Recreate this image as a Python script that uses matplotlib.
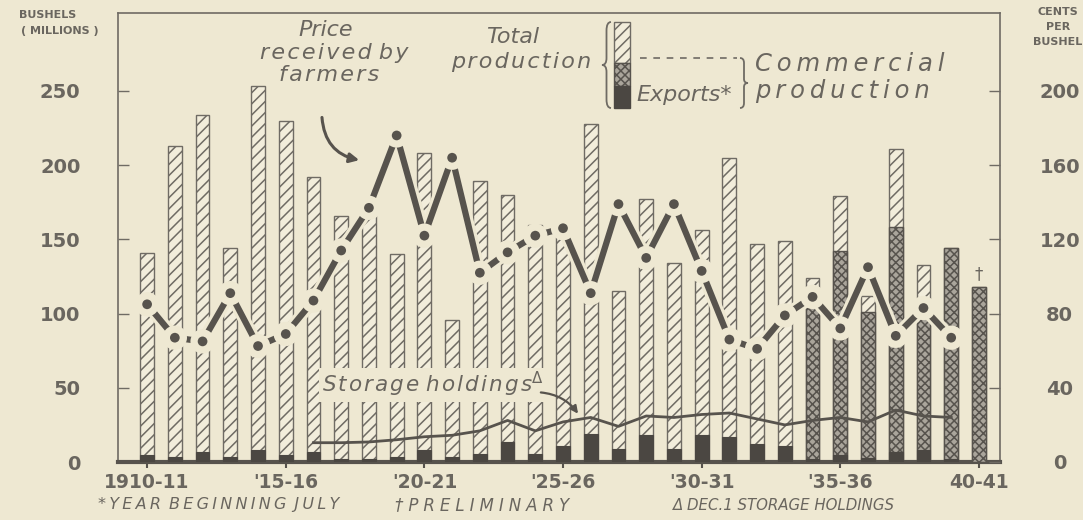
import matplotlib
matplotlib.use("Agg")
import matplotlib.pyplot as plt
import numpy as np
from matplotlib.path import Path
from matplotlib.patches import PathPatch, Rectangle
import matplotlib.patheffects as pe

# ---------------- data ----------------
years = list(range(1910, 1941))
total_production = [141, 213, 234, 144, 253, 230, 192, 166, 169, 140,
                    208, 96, 189, 180, 160, 157, 228, 115, 177, 134,
                    156, 205, 147, 149, 124, 179, 112, 211, 133, 144, 118]
commercial_production = [np.nan] * 24 + [107, 142, 101, 158, 107, 144, 118]
exports = [4.5, 3.5, 6.5, 3.5, 8, 4.5, 6.5, 2, 2, 3.5,
           8, 3.5, 5.5, 13.5, 5.5, 11, 19, 9, 18, 9,
           18, 17, 12, 11, 2, 4.5, 3, 7, 8, 2, 0]
price = [85, 67, 65, 91, 62.5, 69, 87, 114, 137, 176,
         122, 164, 102, 113, 122, 126, 91, 139, 110, 139,
         103, 66, 61, 79, 89, 72, 105, 68, 83, 67, np.nan]
storage_years = list(range(1916, 1940))
storage = [13, 13, 13.5, 15, 17, 18, 21, 28, 21, 27,
           30, 24, 31, 30, 32, 33, 29, 25, 28, 30, 27, 35, 31, 30]
tick_years = [1910, 1915, 1920, 1925, 1930, 1935, 1940]
tick_labels = ["1910-11", "'15-16", "'20-21", "'25-26", "'30-31", "'35-36", "40-41"]
left_ticks = [0, 50, 100, 150, 200, 250]
right_ticks = [0, 40, 80, 120, 160, 200]

# ---------------- style ----------------
W, H = 1083, 520
BG = "#eee8d2"
BARFILL = "#f2eddb"
INK = "#57534d"
GRAY = "#6f6b64"
TXT = "#6a665f"
DARK = "#4b4742"
XFILL = "#aaa59b"

plt.rcParams['hatch.linewidth'] = 1.1

fig = plt.figure(figsize=(W / 100, H / 100), dpi=100, facecolor=BG)
ax = fig.add_axes([118 / W, 1 - 462 / H, (1000 - 118) / W, (462 - 13) / H])
ax.set_facecolor(BG)

def fx(x):
    return x / W

def fy(y):
    return 1 - y / H

def sp(s, ch="\u200a"):
    return " ".join(ch.join(w) for w in s.split(" "))

# bars
ax.bar(years, total_production, width=0.5, color=BARFILL, edgecolor=GRAY,
       hatch='///', linewidth=1.0, zorder=2)
ax.bar(years, commercial_production, width=0.5, color=XFILL,
       edgecolor=INK, hatch='xxxx', linewidth=1.0, zorder=3)
ax.bar(years, exports, width=0.5, color=DARK, edgecolor=DARK, linewidth=0.8, zorder=4)

# storage holdings line
ax.plot(storage_years, storage, color=INK, lw=2.0, zorder=5)

ax.set_xlim(1908.95, 1940.76)
ax.set_ylim(0, 302.5)
ax.set_xticks(tick_years)
ax.set_xticklabels(tick_labels, fontsize=13.5, fontweight='bold', color=TXT)
ax.set_yticks(left_ticks)
ax.set_yticklabels([str(v) for v in left_ticks], fontsize=14, fontweight='bold', color=TXT)
ax.tick_params(axis='y', direction='in', length=8, width=1, color=GRAY, pad=27)
ax.tick_params(axis='x', direction='out', length=4, width=1.5, color=INK, pad=4)
for s in ['left', 'right', 'top']:
    ax.spines[s].set_color(GRAY)
    ax.spines[s].set_linewidth(1.2)
ax.spines['bottom'].set_color(INK)
ax.spines['bottom'].set_linewidth(3)

# price axis
ax2 = ax.twinx()
ax2.set_ylim(0, 242)
ax2.plot(years, price, color=INK, lw=4.5, marker='o', ms=8.5, mfc=INK, mec=BG, mew=1.5,
         solid_capstyle='butt', zorder=6,
         path_effects=[pe.Stroke(linewidth=9, foreground=BG), pe.Normal()])
ax2.set_yticks(right_ticks)
ax2.set_yticklabels([str(v) for v in right_ticks], fontsize=14, fontweight='bold', color=TXT)
for lab in ax2.get_yticklabels():
    lab.set_horizontalalignment('center')
ax2.tick_params(axis='y', direction='in', length=8, width=1, color=GRAY, pad=43)
for s in ax2.spines.values():
    s.set_visible(False)

# axis titles
hd = dict(fontsize=8, fontweight='bold', color=TXT, ha='center', va='center')
fig.text(fx(48), fy(15), "BUSHELS", **hd)
fig.text(fx(60), fy(31), "( MILLIONS )", **hd)
fig.text(fx(1058), fy(12), "CENTS", **hd)
fig.text(fx(1058), fy(27), "PER", **hd)
fig.text(fx(1058), fy(42), "BUSHEL", **hd)

# annotations
it = dict(fontsize=16, style='italic', color=TXT, ha='center', va='center')
fig.text(fx(326), fy(30), "Price", **it)
fig.text(fx(334), fy(53), sp("received by"), **it)
fig.text(fx(329), fy(75), sp("farmers"), **it)
fig.text(fx(513), fy(37), "Total", **it)
fig.text(fx(521), fy(62), sp("production"), **it)
fig.text(fx(755), fy(64), sp("Commercial", "\u2009"), fontsize=17.5, style='italic', color=TXT,
         ha='left', va='center')
fig.text(fx(755), fy(91), sp("production", "\u2009"), fontsize=17.5, style='italic', color=TXT,
         ha='left', va='center')
fig.text(fx(636), fy(95), "Exports*", fontsize=16, style='italic', color=TXT, ha='left', va='center')

# legend key bar
def rect(x0, y0, x1, y1, **kw):
    r = Rectangle((fx(x0), fy(y1)), fx(x1) - fx(x0), fy(y0) - fy(y1), transform=fig.transFigure, **kw)
    fig.patches.append(r)

rect(614, 22, 630, 63, facecolor=BARFILL, edgecolor=GRAY, hatch='///', lw=1.0)
rect(614, 63, 630, 86, facecolor=XFILL, edgecolor=INK, hatch='xxxx', lw=1.0)
rect(614, 86, 630, 108, facecolor=DARK, edgecolor=DARK, lw=1.0)

def brace(x, y0, y1, w, left=True):
    h = y1 - y0
    s = -1 if left else 1
    xm = x + s * w / 2
    xt = x + s * w
    pts = [(x, y0), (xm, y0), (xm, y0 + 0.1 * h), (xm, y0 + 0.42 * h),
           (xm, y0 + 0.5 * h), (xt, y0 + 0.5 * h), (xm, y0 + 0.5 * h), (xm, y0 + 0.58 * h),
           (xm, y0 + 0.9 * h), (xm, y1), (x, y1)]
    codes = [Path.MOVETO, Path.CURVE3, Path.CURVE3, Path.LINETO,
             Path.CURVE3, Path.CURVE3, Path.CURVE3, Path.CURVE3,
             Path.LINETO, Path.CURVE3, Path.CURVE3]
    p = Path([(fx(a), fy(b)) for a, b in pts], codes)
    fig.patches.append(PathPatch(p, transform=fig.transFigure, facecolor='none',
                                 edgecolor=GRAY, lw=1.3))

brace(611, 22, 108, 9, left=True)
brace(740, 58, 108, 8, left=False)
fig.add_artist(plt.Line2D([fx(640), fx(737)], [fy(58), fy(58)], transform=fig.transFigure,
                          color=GRAY, lw=1.2, linestyle=(0, (4, 4))))

# price arrow
ax.annotate("", xy=(1917.75, 203), xytext=(1916.3, 234),
            arrowprops=dict(arrowstyle='-|>', color=INK, lw=2.2, mutation_scale=14,
                            connectionstyle="arc3,rad=0.4"), zorder=7)

# storage label and arrow
ax.text(1920.3, 52, sp("Storage holdings") + "$^{\\Delta}$", fontsize=15.5, style='italic', color=TXT,
        ha='center', va='center', zorder=6,
        bbox=dict(boxstyle='square,pad=0.12', facecolor=BG, edgecolor='none'))
ax.annotate("", xy=(1925.6, 31), xytext=(1924.1, 47),
            arrowprops=dict(arrowstyle='-|>', color=INK, lw=1.6, mutation_scale=11,
                            connectionstyle="arc3,rad=-0.25"), zorder=7)

# preliminary mark
ax.annotate("\u2020", xy=(years[-1], total_production[-1]), xytext=(0, 3), textcoords='offset points',
            ha='center', va='bottom', fontsize=12, color=TXT, zorder=6)

# footnotes
fn = dict(style='italic', color=TXT, va='center', ha='left')
fig.text(fx(98), fy(505), "* Y E A R  B E G I N N I N G  J U L Y".replace("  ", "\u2002").replace(" ", "\u2009"),
         fontsize=11.5, **fn)
fig.text(fx(395), fy(505), "\u2020 P R E L I M I N A R Y".replace(" ", "\u2009\u200a"), fontsize=12, **fn)
fig.text(fx(673), fy(505), "\u0394 DEC.1 STORAGE HOLDINGS", fontsize=10.8, **fn)

fig.savefig("out.png", dpi=100, facecolor=BG)
